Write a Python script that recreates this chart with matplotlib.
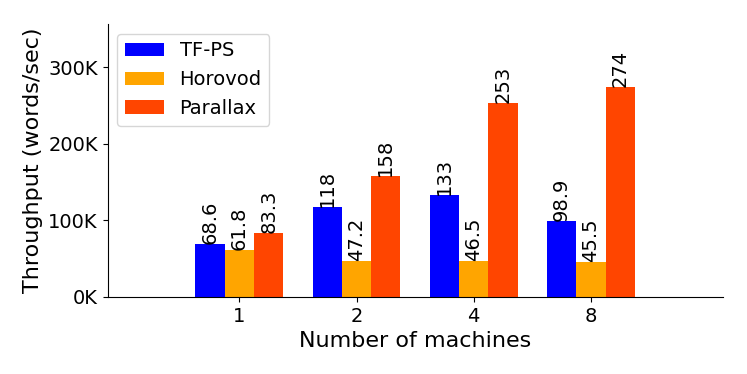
import numpy as np
import matplotlib
matplotlib.use('Agg')
import matplotlib.pyplot as plt

machines = ['1', '2', '4', '8']
tfps = [68.6, 118, 133, 98.9]
horovod = [61.8, 47.2, 46.5, 45.5]
parallax = [83.3, 158, 253, 274]
series = [('TF-PS', tfps, '#0000ff'), ('Horovod', horovod, '#ffa500'), ('Parallax', parallax, '#ff4500')]

fig = plt.figure(figsize=(7.47, 3.74), dpi=100)
ax = fig.add_axes([0.144, 0.206, 0.8235, 0.730])

xpos = np.arange(len(machines))
width = 0.25
for ind0, (name, vals, color) in enumerate(series):
    vals = np.array(vals) * 1000
    bars = ax.bar(xpos + (ind0 - 1) * width, vals, width, color=color, label=name)
    for b, v in zip(bars, vals):
        ax.text(b.get_x() + b.get_width() / 2, v, f'{v/1000:g}', rotation=90,
                ha='center', va='bottom', fontsize=14)

ax.set_xlim(-1.125, 3 + 1.125)
ax.set_ylim(0, max(parallax) * 1000 * 1.3)
ax.set_xticks(xpos)
ax.set_xticklabels(machines)
ax.set_yticks([0, 100000, 200000, 300000])
ax.set_yticklabels(['0K', '100K', '200K', '300K'])
ax.tick_params(labelsize=14)
ax.set_xlabel('Number of machines', fontsize=16)
ax.set_ylabel('Throughput (words/sec)', fontsize=16)
ax.spines['top'].set_visible(False)
ax.spines['right'].set_visible(False)
ax.legend(loc='upper left', fontsize=14)

fig.savefig('out.png', dpi=100)
